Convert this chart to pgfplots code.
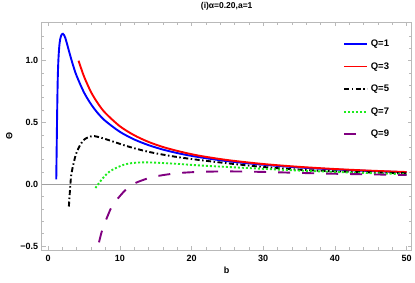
\documentclass[border=0pt]{standalone}
\usepackage{fontspec}
\setmainfont{Liberation Sans}[UprightFont={* Bold}, BoldFont={* Bold}]
\usepackage{pgfplots}
\pgfplotsset{compat=1.18}
\definecolor{qgreen}{RGB}{30,235,30}
\definecolor{qpurple}{RGB}{128,0,128}
\definecolor{framegray}{RGB}{185,185,185}
\definecolor{zerogray}{RGB}{160,160,160}
\begin{document}
\begin{tikzpicture}
\begin{axis}[
 width=370pt, height=227.7pt, scale only axis,
 xmin=-0.89, xmax=50.7, ymin=-0.532, ymax=1.311,
 axis line style={framegray, line width=0.8pt},
 every tick/.style={framegray, line width=0.6pt},
 tick align=inside,
 major tick length=4pt, minor tick length=2.5pt,
 xtick={0,10,20,30,40,50},
 xticklabels={\textbf{0},\textbf{10},\textbf{20},\textbf{30},\textbf{40},\textbf{50}},
 minor xtick={2,4,6,8,12,14,16,18,22,24,26,28,32,34,36,38,42,44,46,48},
 ytick={-0.5,0,0.5,1.0},
 yticklabels={\textbf{−0.5},\textbf{0.0},\textbf{0.5},\textbf{1.0}},
 minor ytick={-0.4,-0.3,-0.2,-0.1,0.1,0.2,0.3,0.4,0.6,0.7,0.8,0.9,1.1,1.2},
 ticklabel style={font=\fontsize{9}{10}\selectfont\bfseries, black},
 xticklabel style={yshift=-2pt},
 extra y ticks={0},
 extra y tick labels={},
 extra y tick style={grid=major, major grid style={zerogray, line width=1.1pt}, tick style={draw=none}},
 xlabel={\textbf{b}}, ylabel={\textbf{Θ}},
 label style={font=\fontsize{9}{10}\selectfont\bfseries},
 xlabel style={yshift=2pt},
 ylabel style={yshift=1pt},
 title={\textbf{(i)α=0.20,a=1}},
 title style={font=\fontsize{8.5}{10}\selectfont\bfseries, yshift=2pt},
 legend style={at={(rel axis cs:0.815,0.935)}, anchor=north west, draw=none, fill=none,
   font=\fontsize{9.5}{11}\selectfont\bfseries, row sep=9.5pt, inner sep=0pt,
   nodes={inner sep=2.5pt}},
 legend cell align=left,
 legend image code/.code={\draw[#1] (0pt,0pt) -- (23pt,0pt);},
 clip=true,
]
\addplot[blue, line width=1.9pt, smooth] coordinates {
(1.14,0.04) (1.2,0.3) (1.27,0.6) (1.35,0.86) (1.45,1.02) (1.6,1.14) (1.8,1.2) (2.07,1.218)
(2.4,1.185) (3.0,1.06) (3.5,0.96) (4,0.875) (5,0.744) (6,0.647) (7,0.571) (8,0.512)
(10,0.425) (12,0.363) (14,0.317) (16,0.281) (18.3,0.249) (21,0.22) (25,0.187) (30,0.158)
(35,0.136) (40,0.12) (45,0.107) (50,0.097)};
\addlegendentry{Q=1}
\addplot[red, line width=1.9pt, smooth] coordinates {
(4.25,1.0) (5,0.874) (6,0.745) (7,0.65) (8,0.576) (10,0.47) (12,0.397) (14,0.343)
(16,0.302) (18.3,0.266) (21,0.232) (25,0.196) (30,0.164) (35,0.141) (40,0.1235) (45,0.11) (50,0.099)};
\addlegendentry{Q=3}
\addplot[black, line width=1.9pt, smooth, dash pattern=on 5pt off 2.5pt on 1.5pt off 2.5pt] coordinates {
(2.9,-0.18) (3.05,-0.05) (3.23,0.075) (3.6,0.18) (3.93,0.25) (4.5,0.32) (5.1,0.365)
(6.2,0.39) (7.5,0.375) (9.5,0.337) (11.5,0.3) (13.9,0.264) (16,0.24) (18.3,0.218)
(21,0.197) (25,0.17) (30,0.14) (35,0.118) (40,0.105) (45,0.096) (50,0.089)};
\addlegendentry{Q=5}
\addplot[qgreen, line width=1.9pt, smooth, dash pattern=on 2pt off 2pt] coordinates {
(6.6,-0.03) (7.5,0.04) (8.3,0.09) (9.0,0.118) (10.4,0.155) (11.5,0.17) (13,0.177)
(15,0.175) (18.3,0.164) (21,0.153) (25,0.14) (30,0.125) (35,0.111) (40,0.1) (45,0.09) (50,0.082)};
\addlegendentry{Q=7}
\addplot[qpurple, line width=1.9pt, smooth, dash pattern=on 12pt off 12pt] coordinates {
(7.1,-0.47) (7.55,-0.37) (8.35,-0.25) (9.0,-0.17) (10.4,-0.07) (11.6,-0.006) (13.5,0.04)
(15.1,0.065) (17.9,0.089) (21,0.1) (25,0.104) (30,0.1) (35,0.092) (40,0.085) (45,0.08) (50,0.075)};
\addlegendentry{Q=9}
\end{axis}
\pgfresetboundingbox
\path (current axis.south west) ++(-41.7pt,-33pt) coordinate (bbA);
\path (current axis.north east) ++(3.3pt,22.3pt) coordinate (bbB);
\path[use as bounding box] (bbA) rectangle (bbB);
\end{tikzpicture}
\end{document}
